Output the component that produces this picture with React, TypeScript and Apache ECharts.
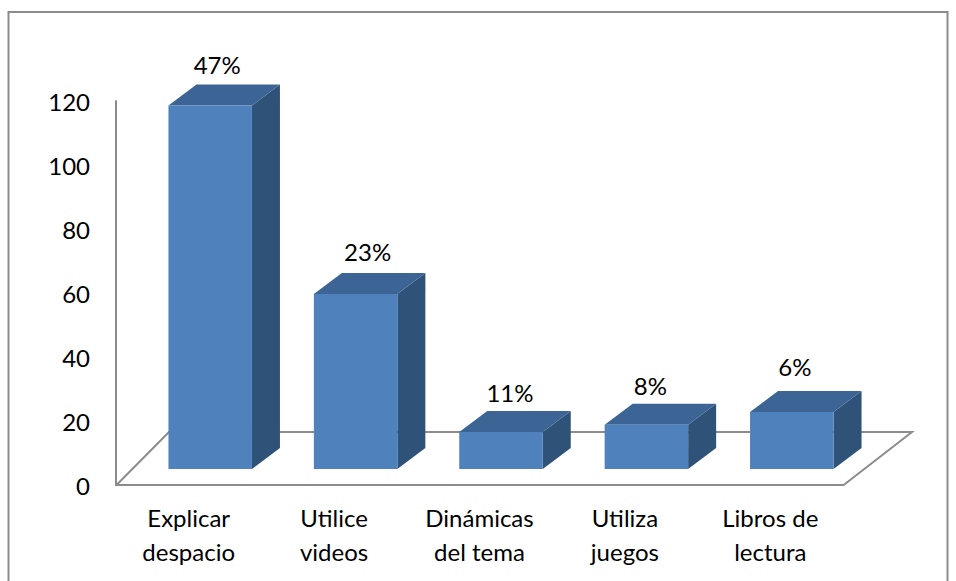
import React, { useEffect, useRef } from "react";
import * as echarts from "echarts";

const categories = ["Explicar\ndespacio", "Utilice\nvideos", "Dinámicas\ndel tema", "Utiliza\njuegos", "Libros de\nlectura"];
const values = [113.6, 54.7, 11.6, 13.8, 17.8];
const percentLabels = ["47%", "23%", "11%", "8%", "6%"];
const yTicks = { min: 0, max: 120, interval: 20 };

const FONT = "Lato";
const GRAY = "#8c8c8c";
const FRONT = "#4f81bd";
const SIDE = "#2f5279";
const TOP = "#3c6494";
// 3D projection, in pixels
const DEPTH_X = 28;
const DEPTH_Y = 21;
const BASE_X = 21.5;
const BASE_Y = 16;
const BAR_WIDTH = 83.5;
const LABEL_NUDGE = [7, 12, 9, 4, 3];
const LABEL_LIFT = [20, 21, 18, 18, 25];

export default function App() {
  const ref = useRef<HTMLDivElement>(null);
  useEffect(() => {
    const chart = echarts.init(ref.current!, null, { renderer: "svg" });
    chart.setOption({
      animation: false,
      backgroundColor: "#ffffff",
      grid: { left: 116, top: 101, width: 727, height: 384 },
      graphic: [
        {
          type: "polyline",
          z: -1,
          shape: { points: [[8.5, 581], [8.5, 12], [947.5, 12], [947.5, 581]] },
          style: { stroke: GRAY, lineWidth: 2, fill: "none" },
        },
        {
          type: "polyline",
          z: -1,
          shape: { points: [[116, 485.5], [169, 432], [912, 432], [843, 485.5]] },
          style: { stroke: GRAY, lineWidth: 2, fill: "none" },
        },
      ],
      xAxis: {
        type: "category",
        data: categories,
        axisLine: { show: true, lineStyle: { color: GRAY, width: 2 } },
        axisTick: { show: false },
        axisLabel: { color: "#000", fontFamily: FONT, fontSize: 24, lineHeight: 34, margin: 15, interval: 0 },
      },
      yAxis: {
        type: "value",
        min: yTicks.min,
        max: yTicks.max,
        interval: yTicks.interval,
        axisLine: { show: true, lineStyle: { color: GRAY, width: 2 } },
        axisTick: { show: false },
        splitLine: { show: false },
        axisLabel: { color: "#000", fontFamily: FONT, fontSize: 24, margin: 26 },
      },
      series: [
        {
          type: "custom",
          z: 5,
          data: values.map((v, i) => [i, v]),
          encode: { x: 0, y: 1 },
          renderItem: (params: any, api: any) => {
            const i = api.value(0);
            const [cx, topY] = api.coord([i, api.value(1)]);
            const [, baseY] = api.coord([i, 0]);
            const l = cx + BASE_X - BAR_WIDTH / 2;
            const r = l + BAR_WIDTH;
            const t = topY - BASE_Y;
            const b = baseY - BASE_Y;
            return {
              type: "group",
              children: [
                {
                  type: "polygon",
                  shape: { points: [[r, t], [r + DEPTH_X, t - DEPTH_Y], [r + DEPTH_X, b - DEPTH_Y], [r, b]] },
                  style: { fill: SIDE },
                },
                {
                  type: "polygon",
                  shape: { points: [[l, t], [l + DEPTH_X, t - DEPTH_Y], [r + DEPTH_X, t - DEPTH_Y], [r, t]] },
                  style: { fill: TOP },
                },
                { type: "rect", shape: { x: l, y: t, width: BAR_WIDTH, height: b - t }, style: { fill: FRONT } },
                {
                  type: "text",
                  style: {
                    x: (l + r) / 2 + LABEL_NUDGE[i],
                    y: t - DEPTH_Y - LABEL_LIFT[i],
                    text: percentLabels[i],
                    fill: "#000",
                    font: `24px ${FONT}`,
                    align: "center",
                    verticalAlign: "middle",
                  },
                },
              ],
            };
          },
        },
      ],
    });
    return () => chart.dispose();
  }, []);
  return <div ref={ref} style={{ position: "absolute", left: 0, top: 0, width: 956, height: 581 }} />;
}
